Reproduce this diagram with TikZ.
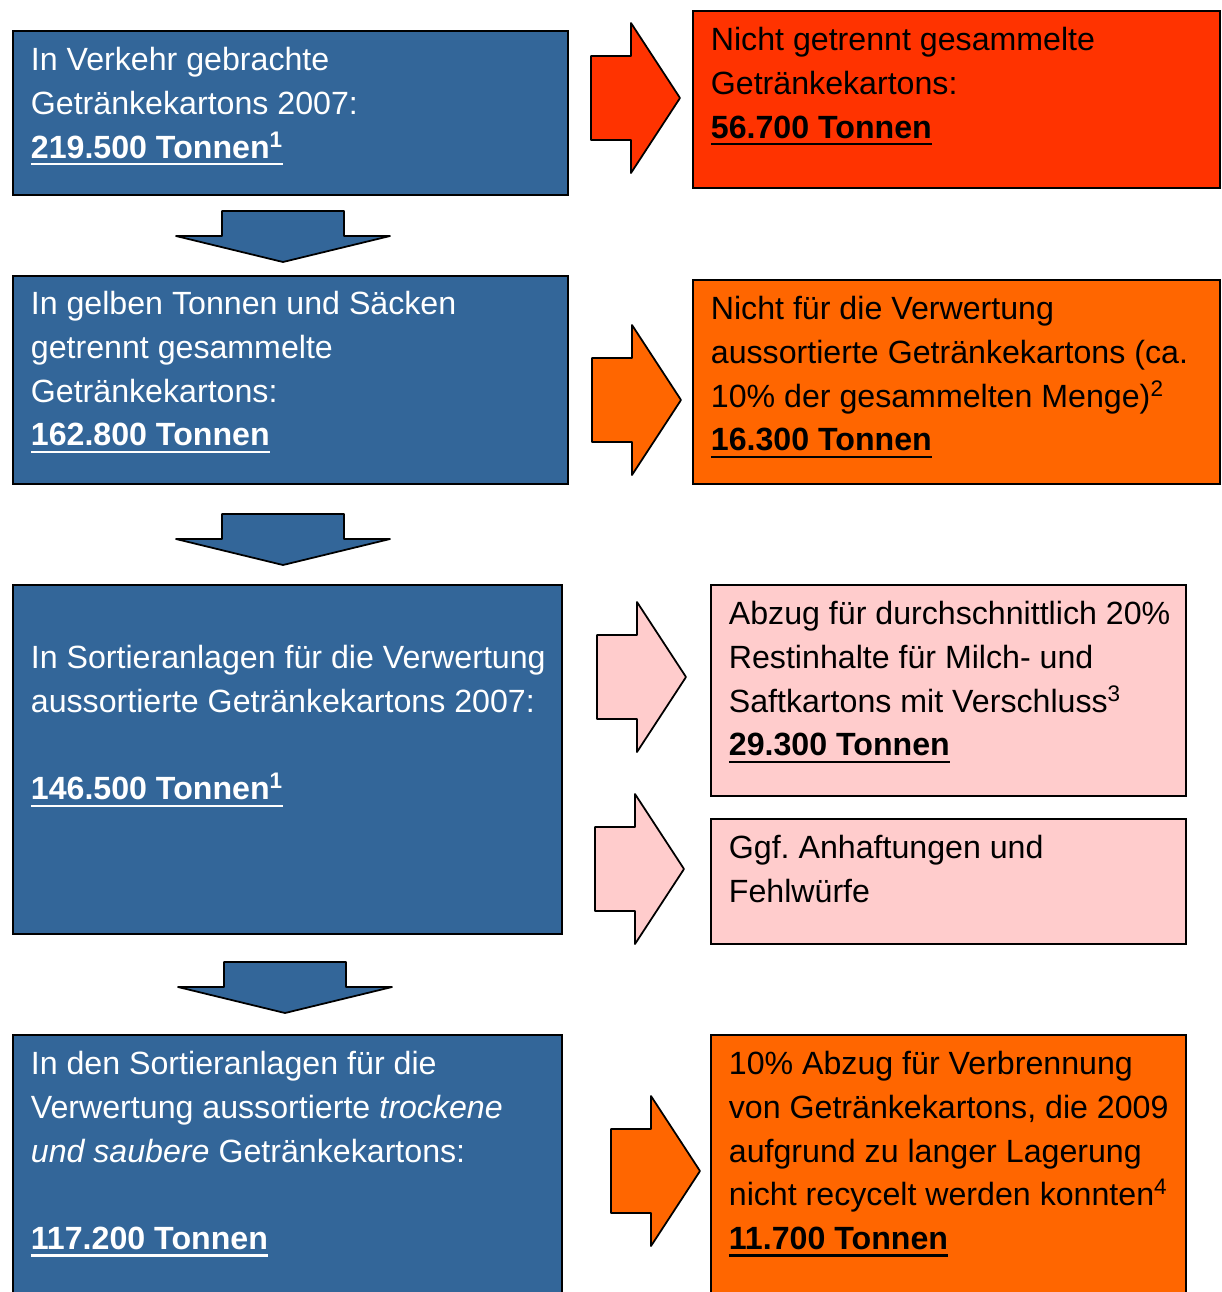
\documentclass[tikz,border=0pt]{standalone}
\usepackage{fontspec}
\setmainfont{Liberation Sans}
\usepackage{xcolor}
\definecolor{boxblue}{RGB}{51,102,153}
\definecolor{boxred}{RGB}{255,51,0}
\definecolor{boxorange}{RGB}{255,102,0}
\definecolor{boxpink}{RGB}{255,204,204}
\newlength{\px}\setlength{\px}{0.02cm}
\newcommand{\tonnen}[1]{\setbox0\hbox{\bfseries #1}\rlap{\rule[-4.2pt]{\wd0}{1.6pt}}\box0}

\begin{document}
\begin{tikzpicture}[x=0.02cm,y=-0.02cm,line width=1pt]
\tikzstyle{box}=[draw=black,line width=1pt,inner sep=0pt,anchor=north west]
\tikzstyle{bluebox}=[box,fill=boxblue]
\tikzstyle{redbox}=[box,fill=boxred]
\tikzstyle{orangebox}=[box,fill=boxorange]
\tikzstyle{pinkbox}=[box,fill=boxpink]
\tikzstyle{txt}=[anchor=north west,align=left,inner sep=0pt,
                 font=\fontsize{18.3}{25}\selectfont,execute at begin node=\strut]
\tikzstyle{whitetxt}=[txt,text=white]
\tikzstyle{blockarrow}=[draw,line join=round]
\tikzset{rarrow/.pic={\path[pic actions] (0,-42) -- (40,-42) -- (40,-75) -- (89,0)
           -- (40,75) -- (40,42) -- (0,42) -- cycle;},
         darrow/.pic={\path[pic actions] (-61,0) -- (61,0) -- (61,25) -- (107,25)
           -- (0,51) -- (-107,25) -- (-61,25) -- cycle;}}
\clip (0,0) rectangle (1221,1292);

% left column
\node (b1) [bluebox,minimum width=555\px,minimum height=164\px] at (12,30) {};
\node (b1t) [whitetxt] at (30,46) {In Verkehr gebrachte\\Getränkekartons 2007:\\
  \tonnen{219.500 Tonnen\textsuperscript{1}}};
\node (b2) [bluebox,minimum width=555\px,minimum height=208\px] at (12,275) {};
\node (b2t) [whitetxt] at (30,290) {In gelben Tonnen und Säcken\\getrennt gesammelte\\
  Getränkekartons:\\\tonnen{162.800 Tonnen}};
\node (b3) [bluebox,minimum width=549\px,minimum height=349\px] at (12,584) {};
\node (b3t) [whitetxt] at (30,644) {In Sortieranlagen für die Verwertung\\
  aussortierte Getränkekartons 2007:\\[25pt]\tonnen{146.500 Tonnen\textsuperscript{1}}};
\node (b4) [bluebox,minimum width=549\px,minimum height=300\px] at (12,1034) {};
\node (b4t) [whitetxt] at (30,1050) {In den Sortieranlagen für die\\
  Verwertung aussortierte \textit{trockene}\\\textit{und saubere} Getränkekartons:\\[25pt]
  \tonnen{117.200 Tonnen}};

% right column
\node (r1) [redbox,minimum width=527\px,minimum height=177\px] at (692,10) {};
\node (r1t) [txt] at (710,26) {Nicht getrennt gesammelte\\Getränkekartons:\\
  \tonnen{56.700 Tonnen}};
\node (o2) [orangebox,minimum width=527\px,minimum height=204\px] at (692,279) {};
\node (o2t) [txt] at (710,295) {Nicht für die Verwertung\\
  aussortierte Getränkekartons (ca.\\10\% der gesammelten Menge)\textsuperscript{2}\\
  \tonnen{16.300 Tonnen}};
\node (p3) [pinkbox,minimum width=475\px,minimum height=211\px] at (710,584) {};
\node (p3t) [txt] at (728,600) {Abzug für durchschnittlich 20\%\\
  Restinhalte für Milch- und\\Saftkartons mit Verschluss\textsuperscript{3}\\
  \tonnen{29.300 Tonnen}};
\node (p4) [pinkbox,minimum width=475\px,minimum height=125\px] at (710,818) {};
\node (p4t) [txt] at (728,834) {Ggf.\ Anhaftungen und\\Fehlwürfe};
\node (o4) [orangebox,minimum width=475\px,minimum height=300\px] at (710,1034) {};
\node (o4t) [txt] at (728,1050) {10\% Abzug für Verbrennung\\
  von Getränkekartons, die 2009\\aufgrund zu langer Lagerung\\
  nicht recycelt werden konnten\textsuperscript{4}\\\tonnen{11.700 Tonnen}};

% block arrows
\pic[blockarrow,fill=boxblue] at (283,211) {darrow};
\pic[blockarrow,fill=boxblue] at (283,514) {darrow};
\pic[blockarrow,fill=boxblue] at (285,962) {darrow};
\pic[blockarrow,fill=boxred] at (591,98) {rarrow};
\pic[blockarrow,fill=boxorange] at (592,400) {rarrow};
\pic[blockarrow,fill=boxpink] at (597,677) {rarrow};
\pic[blockarrow,fill=boxpink] at (595,869) {rarrow};
\pic[blockarrow,fill=boxorange] at (611,1171) {rarrow};
\end{tikzpicture}
\end{document}
